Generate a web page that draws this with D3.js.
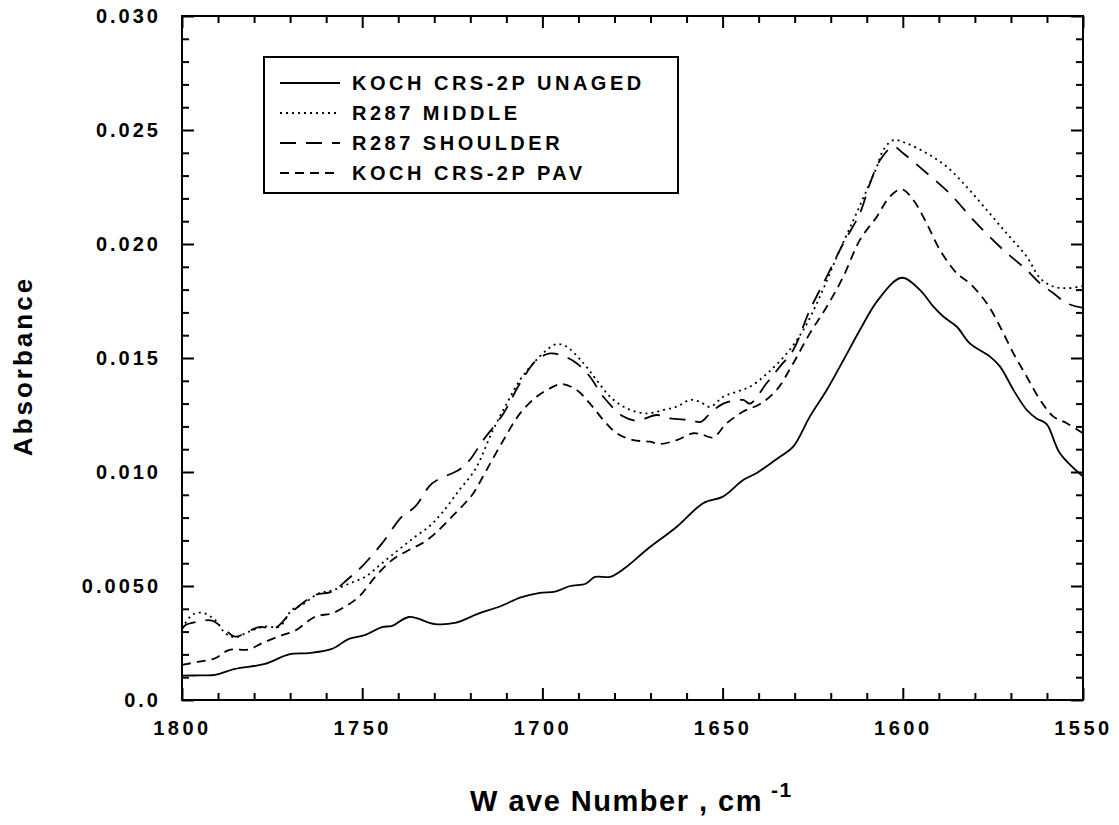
<!DOCTYPE html>
<html>
<head>
<meta charset="utf-8">
<script src="https://cdn.jsdelivr.net/npm/d3@7"></script>
<style>
  body { margin: 0; background: #fff; }
  svg { display: block; font-family: "Liberation Sans", Arial, sans-serif; font-weight: bold; }
</style>
</head>
<body>
<svg width="1119" height="825"></svg>
<script>
// Series: [wave number, absorbance]
var unaged = [
  [1800, 0.00107], [1795, 0.00108], [1790.8, 0.0011], [1785.3, 0.00136], [1777, 0.00158],
  [1770.3, 0.0020], [1764.8, 0.00206], [1758.4, 0.00224], [1753.7, 0.00268], [1749.2, 0.00285],
  [1744.5, 0.0032], [1741.7, 0.00325], [1737, 0.00364], [1729.8, 0.00333], [1724.3, 0.00338],
  [1717.6, 0.0038], [1711.8, 0.0041], [1706, 0.0045], [1700.7, 0.0047], [1696.5, 0.00475],
  [1692.3, 0.0050], [1688, 0.0051], [1685.4, 0.0054], [1681.2, 0.0054], [1677, 0.0058],
  [1671, 0.0066], [1662.7, 0.0076], [1655.4, 0.00863], [1649.9, 0.00892], [1644.3, 0.00965],
  [1640.5, 0.00996], [1634.1, 0.01067], [1630.4, 0.01111], [1625.8, 0.01243], [1621.1, 0.0136],
  [1616.5, 0.0149], [1611.9, 0.01623], [1606.9, 0.01754], [1600.3, 0.01852], [1595.2, 0.01798],
  [1591.5, 0.01725], [1588.7, 0.01681], [1585, 0.01637], [1581.4, 0.01564], [1575.8, 0.01506],
  [1573, 0.01462], [1569.3, 0.0136], [1565.6, 0.01272], [1562.9, 0.01235], [1560.1, 0.0121],
  [1556.4, 0.01082], [1550, 0.0098]
];

var middle = [
  [1800, 0.00314], [1797.2, 0.00373], [1794.5, 0.00383], [1790.8, 0.00351], [1788, 0.00293],
  [1785.3, 0.00275], [1781.4, 0.0030], [1777, 0.00322], [1773, 0.00322], [1769.5, 0.00395],
  [1766.7, 0.00417], [1762, 0.00468], [1758.4, 0.0048], [1753.7, 0.0051], [1749.2, 0.0054],
  [1744.5, 0.0060], [1739.8, 0.0066], [1735.3, 0.00716], [1731.5, 0.0076], [1727.9, 0.0082],
  [1723.1, 0.0092], [1718.7, 0.0101], [1713.7, 0.01184], [1709.9, 0.0130], [1706.2, 0.01404],
  [1702.5, 0.01477], [1698.8, 0.01535], [1696, 0.01561], [1693.3, 0.0155], [1688.6, 0.01477],
  [1685, 0.01404], [1681.2, 0.0133], [1676.6, 0.01279], [1671.1, 0.01257], [1666.5, 0.01272],
  [1662.7, 0.01287], [1659, 0.01316], [1656.3, 0.01308], [1653.5, 0.01286], [1649.8, 0.0133],
  [1646.1, 0.01352], [1642.4, 0.01374], [1637.8, 0.0143], [1632.2, 0.0152], [1627.6, 0.01623],
  [1623, 0.01769], [1618.3, 0.01944], [1613.7, 0.02105], [1610, 0.02237], [1607.2, 0.02339],
  [1605.4, 0.02412], [1602.6, 0.02456], [1598.9, 0.02441], [1593.4, 0.02398], [1587.8, 0.02339],
  [1582.3, 0.02251], [1576.7, 0.02149], [1571.2, 0.02047], [1565.6, 0.01944], [1561.9, 0.0185],
  [1558.2, 0.01813], [1554.5, 0.01806], [1550, 0.01816]
];

var shoulder = [
  [1800, 0.0031], [1799, 0.00329], [1795.3, 0.00344], [1791.7, 0.00348], [1788, 0.00307],
  [1785.3, 0.00278], [1778.6, 0.0032], [1774.2, 0.00316], [1769.5, 0.00387], [1763.1, 0.0046],
  [1758.4, 0.00475], [1753.7, 0.00534], [1750.1, 0.00585], [1744.5, 0.00687], [1739, 0.00804],
  [1735.3, 0.00848], [1730.6, 0.0095], [1723.1, 0.0101], [1720.3, 0.0105], [1716.4, 0.0114],
  [1710.8, 0.01257], [1706.2, 0.01389], [1701.6, 0.01491], [1697.9, 0.0152], [1694.2, 0.01509],
  [1690.5, 0.01477], [1686.8, 0.01418], [1683.1, 0.0133], [1677.5, 0.01243], [1673.8, 0.01225],
  [1668.3, 0.0125], [1664.6, 0.01235], [1659, 0.01228], [1656, 0.0122], [1653.5, 0.01257],
  [1649.8, 0.0130], [1644.3, 0.01316], [1642.4, 0.0130], [1637.8, 0.01389], [1634.1, 0.01462],
  [1630.4, 0.01535], [1625.8, 0.0171], [1621.1, 0.01857], [1616.5, 0.02003], [1611.9, 0.02135],
  [1609.1, 0.02266], [1606.3, 0.02368], [1602.6, 0.02427], [1599.9, 0.02398], [1594.4, 0.02325],
  [1587, 0.02222], [1580.4, 0.02105], [1572.1, 0.01974], [1565.6, 0.01886], [1561.9, 0.01827],
  [1558.2, 0.01784], [1554.5, 0.0174], [1550, 0.0172]
];

var pav = [
  [1800, 0.00154], [1795.3, 0.00168], [1790.8, 0.00183], [1787, 0.00219], [1781.4, 0.00222],
  [1777.8, 0.00249], [1773, 0.0028], [1768.6, 0.00304], [1763.1, 0.00365], [1758.4, 0.0038],
  [1754.8, 0.00409], [1750.9, 0.00453], [1746.4, 0.0054], [1741.7, 0.00614], [1737, 0.00658],
  [1733.4, 0.00687], [1729.8, 0.0073], [1725.1, 0.00804], [1721.5, 0.00863], [1719.2, 0.00906],
  [1715.5, 0.01009], [1710.8, 0.0114], [1706.2, 0.01257], [1701.6, 0.0133], [1697.9, 0.01367],
  [1694.7, 0.01386], [1690.5, 0.0136], [1686.8, 0.0130], [1683.1, 0.01228], [1679.4, 0.0117],
  [1674.8, 0.0114], [1670.1, 0.01133], [1667.4, 0.01123], [1662.7, 0.0114], [1658.1, 0.0117],
  [1655.4, 0.01162], [1652.6, 0.01152], [1648.9, 0.01213], [1644.3, 0.01265], [1639.6, 0.01298],
  [1635, 0.0136], [1630.4, 0.01477], [1625.8, 0.01608], [1621.1, 0.01725], [1616.5, 0.01857],
  [1611.9, 0.02018], [1607.2, 0.0212], [1603.6, 0.02208], [1600.3, 0.0224], [1597.1, 0.02193],
  [1593.4, 0.02091], [1589.7, 0.01974], [1585, 0.01871], [1581.4, 0.01827], [1576.7, 0.0174],
  [1573, 0.01637], [1569.3, 0.0152], [1565.6, 0.01418], [1561.9, 0.01316], [1558.2, 0.01243],
  [1554.5, 0.01214], [1550, 0.0117]
];

var seriesNames = ['KOCH CRS-2P UNAGED', 'R287 MIDDLE', 'R287 SHOULDER', 'KOCH CRS-2P PAV'];
var xMajor = [1800, 1750, 1700, 1650, 1600, 1550];
var yMajor = [0, 0.005, 0.010, 0.015, 0.020, 0.025, 0.030];
var yLabels = ['0.0', '0.0050', '0.010', '0.015', '0.020', '0.025', '0.030'];

var series = [
  { name: seriesNames[0], values: unaged, dash: null },
  { name: seriesNames[1], values: middle, dash: '2,4' },
  { name: seriesNames[2], values: shoulder, dash: '16,10' },
  { name: seriesNames[3], values: pav, dash: '9,6' }
];

var svg = d3.select('svg');
var margin = { left: 182, top: 16 };
var width = 901, height = 684;

var x = d3.scaleLinear().domain([1800, 1550]).range([0, width]);
var y = d3.scaleLinear().domain([0, 0.030]).range([height, 0]);

var g = svg.append('g').attr('transform', 'translate(' + margin.left + ',' + margin.top + ')');

var xMinor = d3.range(1800, 1549, -10).filter(function (d) { return d % 50 !== 0; });
var yMinor = d3.range(0, 31).map(function (d) { return d / 1000; }).filter(function (d, i) { return i % 5 !== 0; });

function styleAxis(sel) {
  sel.select('.domain').remove();
  sel.selectAll('line').attr('stroke', '#000').attr('stroke-width', 2);
  sel.selectAll('text').attr('fill', '#000').style('font-size', '20px').style('font-weight', 'bold');
}

// bottom axis with labels, ticks inward
g.append('g').attr('transform', 'translate(0,' + height + ')')
  .call(d3.axisBottom(x).tickValues(xMajor).tickSize(-12).tickPadding(21).tickFormat(d3.format('d')))
  .call(styleAxis)
  .selectAll('text').style('letter-spacing', '3.5px');
g.append('g').attr('transform', 'translate(0,' + height + ')')
  .call(d3.axisBottom(x).tickValues(xMinor).tickSize(-7).tickFormat(''))
  .call(styleAxis);

// top axis
g.append('g')
  .call(d3.axisTop(x).tickValues(xMajor).tickSize(-12).tickFormat(''))
  .call(styleAxis);
g.append('g')
  .call(d3.axisTop(x).tickValues(xMinor).tickSize(-7).tickFormat(''))
  .call(styleAxis);

// left axis with labels
g.append('g')
  .call(d3.axisLeft(y).tickValues(yMajor).tickSize(-12).tickPadding(21)
    .tickFormat(function (d, i) { return yLabels[i]; }))
  .call(styleAxis)
  .selectAll('text').style('letter-spacing', '3px');
g.append('g')
  .call(d3.axisLeft(y).tickValues(yMinor).tickSize(-7).tickFormat(''))
  .call(styleAxis);

// right axis
g.append('g').attr('transform', 'translate(' + width + ',0)')
  .call(d3.axisRight(y).tickValues(yMajor).tickSize(-12).tickFormat(''))
  .call(styleAxis);
g.append('g').attr('transform', 'translate(' + width + ',0)')
  .call(d3.axisRight(y).tickValues(yMinor).tickSize(-7).tickFormat(''))
  .call(styleAxis);

// frame
g.append('rect')
  .attr('width', width).attr('height', height)
  .attr('fill', 'none').attr('stroke', '#000').attr('stroke-width', 2);

// lines
var line = d3.line()
  .x(function (d) { return x(d[0]); })
  .y(function (d) { return y(d[1]); })
  .curve(d3.curveCatmullRom);

g.selectAll('.series')
  .data(series)
  .enter().append('path')
  .attr('class', 'series')
  .attr('d', function (d) { return line(d.values); })
  .attr('fill', 'none')
  .attr('stroke', '#000')
  .attr('stroke-width', 1.8)
  .attr('stroke-dasharray', function (d) { return d.dash; });

// legend
var legend = svg.append('g').attr('transform', 'translate(264,57)');
legend.append('rect')
  .attr('width', 414).attr('height', 136)
  .attr('fill', '#fff').attr('stroke', '#000').attr('stroke-width', 2);

var rows = legend.selectAll('.row')
  .data(series)
  .enter().append('g')
  .attr('class', 'row')
  .attr('transform', function (d, i) { return 'translate(0,' + (26 + i * 30) + ')'; });

rows.append('line')
  .attr('x1', 16).attr('x2', 76)
  .attr('stroke', '#000').attr('stroke-width', 1.8)
  .attr('stroke-dasharray', function (d) { return d.dash; });

rows.append('text')
  .attr('x', 88)
  .attr('dy', '0.36em')
  .style('font-size', '20px')
  .style('letter-spacing', '3.5px')
  .text(function (d) { return d.name; });

// axis titles
svg.append('text')
  .attr('x', 470).attr('y', 811)
  .style('font-size', '29px')
  .style('letter-spacing', '1.5px')
  .text('W ave Number , cm')
  .append('tspan')
  .attr('dx', 8).attr('dy', -14)
  .style('font-size', '21px')
  .text('-1');

svg.append('text')
  .attr('transform', 'translate(23,366) rotate(-90)')
  .attr('text-anchor', 'middle')
  .attr('dy', '0.36em')
  .style('font-size', '26px')
  .style('letter-spacing', '3px')
  .text('Absorbance');
</script>
</body>
</html>
